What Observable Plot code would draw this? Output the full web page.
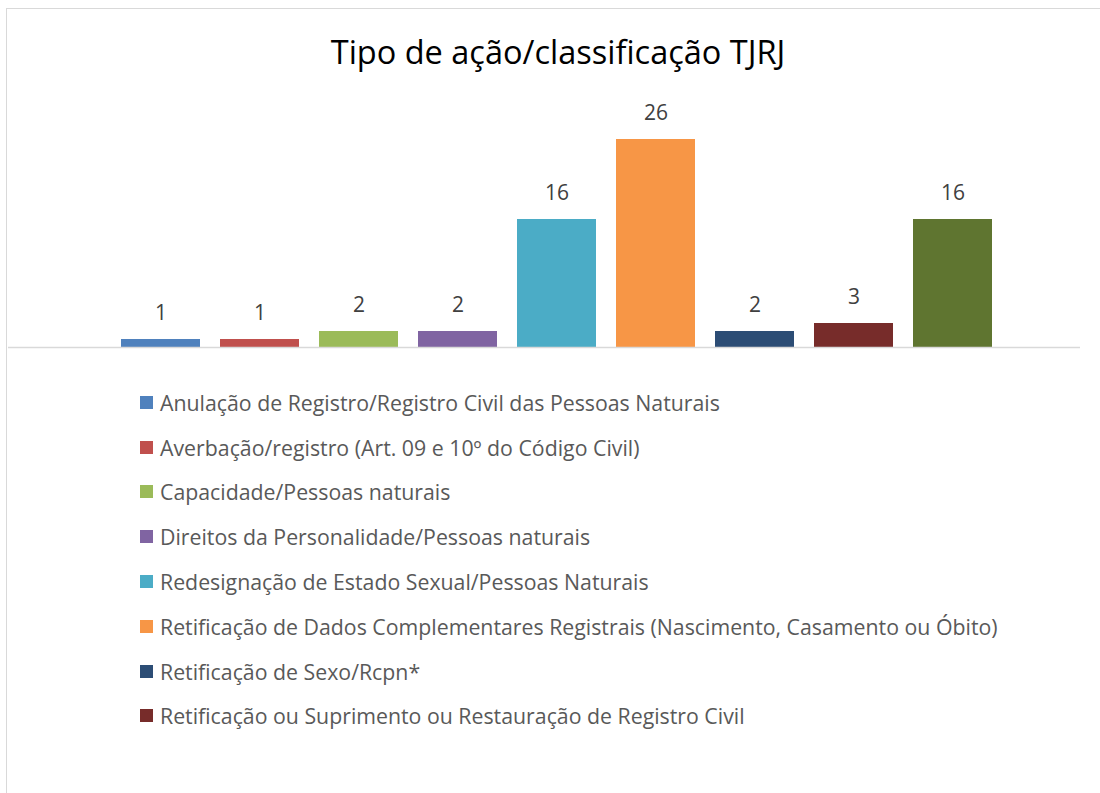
<!DOCTYPE html>
<html>
<head>
<meta charset="utf-8">
<script src="https://cdn.jsdelivr.net/npm/d3@7"></script>
<script src="https://cdn.jsdelivr.net/npm/@observablehq/plot@0.6"></script>
<style>
  html, body { margin: 0; padding: 0; background: #fff; overflow: hidden; }
  #page { position: relative; width: 1100px; height: 793px; overflow: hidden; font-family: "Open Sans", sans-serif; }
  #frame { position: absolute; left: 6px; top: 8px; width: 1200px; height: 900px; border: 1.5px solid #d9d9d9; box-sizing: border-box; }
  #title { position: absolute; left: 0; width: 1116px; top: 30px; text-align: center; font-size: 32.5px; color: #000; line-height: 44px; }
  #chart { position: absolute; left: 0; top: 0; }
  #legend { position: absolute; left: 140px; top: 380px; }
  .item { display: flex; align-items: center; height: 44.8px; font-size: 21.3px; color: #595959; white-space: nowrap; }
  .sw { width: 13px; height: 13px; margin-right: 7px; flex: none; }
</style>
</head>
<body>
<div id="page">
  <div id="frame"></div>
  <div id="title">Tipo de ação/classificação TJRJ</div>
  <div id="chart"></div>
  <div id="legend"></div>
</div>
<script>
const categories = [
  "Anulação de Registro/Registro Civil das Pessoas Naturais",
  "Averbação/registro (Art. 09 e 10º do Código Civil)",
  "Capacidade/Pessoas naturais",
  "Direitos da Personalidade/Pessoas naturais",
  "Redesignação de Estado Sexual/Pessoas Naturais",
  "Retificação de Dados Complementares Registrais (Nascimento, Casamento ou Óbito)",
  "Retificação de Sexo/Rcpn*",
  "Retificação ou Suprimento ou Restauração de Registro Civil",
  "Outros"
];
const values = [1, 1, 2, 2, 16, 26, 2, 3, 16];
const colors = ["#4F81BD", "#C0504D", "#9BBB59", "#8064A2", "#4BACC6", "#F79646", "#2C4D75", "#772C2A", "#5F7530"];
const legendShown = 8;

const data = categories.map((c, i) => ({category: c, value: values[i]}));

const chart = Plot.plot({
  width: 1100,
  height: 360,
  marginTop: 107,
  marginBottom: 13,
  marginLeft: 8,
  marginRight: 20,
  style: {background: "transparent", fontFamily: "'Open Sans', sans-serif"},
  x: {domain: categories, range: [110, 1004], paddingInner: 0.2, paddingOuter: 0.1, axis: null},
  y: {domain: [0, 30], axis: null},
  color: {domain: categories, range: colors},
  marks: [
    Plot.barY(data, {x: "category", y: "value", fill: "category"}),
    Plot.ruleY([0], {stroke: "#d9d9d9", strokeWidth: 1.5}),
    Plot.text(data, {x: "category", y: "value", text: d => String(d.value), dy: -26, fontSize: 21, fill: "#404040"})
  ]
});
document.getElementById("chart").appendChild(chart);

const legend = document.getElementById("legend");
categories.slice(0, legendShown).forEach((c, i) => {
  const row = document.createElement("div");
  row.className = "item";
  const sw = document.createElement("span");
  sw.className = "sw";
  sw.style.background = colors[i];
  const t = document.createElement("span");
  t.textContent = c;
  row.appendChild(sw);
  row.appendChild(t);
  legend.appendChild(row);
});
</script>
</body>
</html>
